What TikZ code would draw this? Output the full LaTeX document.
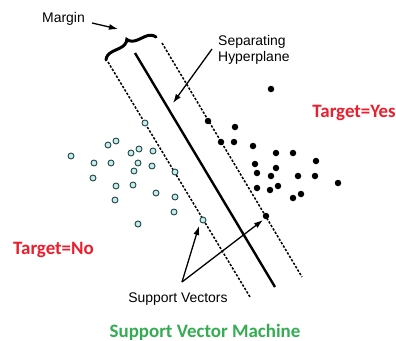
\documentclass[tikz,border=0pt]{standalone}
\usepackage{fontspec}
\setmainfont{Liberation Sans}
\newfontfamily\labelfont{Carlito}
\usetikzlibrary{arrows.meta,decorations.pathreplacing}
\definecolor{tgtred}{RGB}{234,30,45}
\definecolor{tgtgreen}{RGB}{52,172,82}
\definecolor{nofill}{RGB}{196,238,238}
\definecolor{noline}{RGB}{40,70,70}
\begin{document}
\begin{tikzpicture}[x=1bp, y=-1bp]
			\useasboundingbox (0,0) rectangle (396,341);
			\tikzstyle{yes}=[circle, fill=black, inner sep=0pt, minimum size=6.5bp]
			\tikzstyle{no}=[circle, draw=noline, fill=nofill, line width=0.9bp, inner sep=0pt, minimum size=6bp]
			\tikzstyle{pointer}=[line width=1.3bp, -{Latex[length=9bp, width=6bp]}]
			\tikzstyle{note}=[inner sep=0pt, font=\fontsize{14}{16}\selectfont]
			\tikzstyle{target}=[inner sep=0pt, font=\labelfont\bfseries\fontsize{19}{22}\selectfont]
			% hyperplane and margin lines
			\draw[line width=2.4bp] (135,53) -- (275,287);
			\draw[line width=1.5bp, dash pattern=on 2.4bp off 1.6bp] (108,62) -- (250,297);
			\draw[line width=1.5bp, dash pattern=on 2.4bp off 1.6bp] (162,43) -- (302,277);
			\draw[line width=3bp, line cap=round, decorate, decoration={brace, amplitude=10bp}] (106,60) -- (156,37);
			% class No
			\foreach \x/\y in {145/123, 71/156, 108/145, 116/141, 131/153, 139/149, 153/151,
				94/163, 111/163, 138/163, 152/166, 134/171, 175/172, 93/178, 116/186,
				133/185, 156/193, 175/197, 115/200, 174/212, 138/224}
				\node[no] at (\x,\y) {};
			\node[no] (svno) at (203,220) {};
			% class Yes
			\foreach \x/\y in {271/89, 208/121, 235/127, 221/142, 234/142, 253/146, 276/153,
				293/153, 316/161, 255/164, 257/173, 276/168, 271/176, 298/176, 315/176,
				257/188, 270/190, 278/186, 293/198, 301/194, 338/183}
				\node[yes] at (\x,\y) {};
			\node[yes] (svyes) at (266,216) {};
			% labels
			\node[note, anchor=base west] (margin) at (42,22) {Margin};
			\coordinate (bracetip) at (118,29);
			\draw[pointer] (92,23) -- (bracetip);
			\node[note, anchor=west, align=left] (hyper) at (218,50) {Separating\\Hyperplane};
			\coordinate (planept) at (173,103);
			\draw[pointer] (212,49) -- (planept);
			\node[note, anchor=base] (sv) at (178,302) {Support Vectors};
			\coordinate (svfork) at (182,282);
			\draw[pointer] (svfork) -- ([shift={(-4bp,-6bp)}]svno.center);
			\draw[pointer] (svfork) -- ([shift={(-3bp,-4bp)}]svyes.center);
			\node[target, text=tgtred, anchor=base east] (yeslabel) at (396,117) {Target=Yes};
			\node[target, text=tgtred, anchor=base west] (nolabel) at (13,254) {Target=No};
			\node[target, text=tgtgreen, anchor=base] (title) at (205,337) {Support Vector Machine};
		\end{tikzpicture}
\end{document}
